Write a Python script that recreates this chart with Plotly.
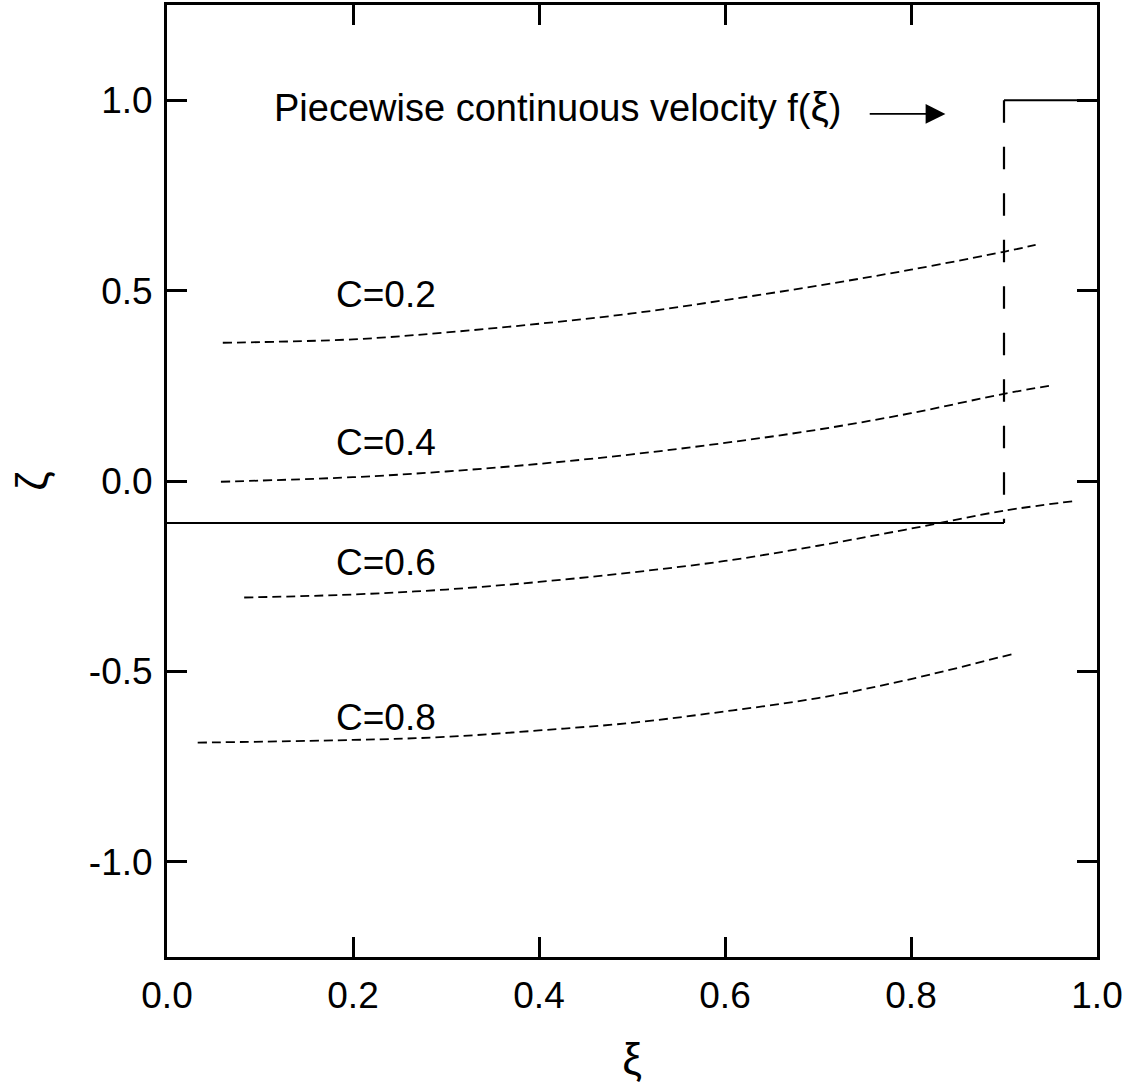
import plotly.graph_objects as go

# ---- data ----
c02_x = [0.060, 0.2, 0.3, 0.4, 0.5, 0.6, 0.7, 0.8, 0.9, 0.934]
c02_y = [0.363, 0.372, 0.390, 0.413, 0.440, 0.475, 0.513, 0.555, 0.602, 0.620]
c04_x = [0.058, 0.2, 0.3, 0.4, 0.5, 0.6, 0.7, 0.8, 0.9, 0.953]
c04_y = [-0.002, 0.010, 0.025, 0.045, 0.070, 0.100, 0.135, 0.178, 0.229, 0.252]
c06_x = [0.083, 0.2, 0.3, 0.4, 0.5, 0.6, 0.7, 0.8, 0.9, 0.978]
c06_y = [-0.306, -0.298, -0.285, -0.265, -0.240, -0.210, -0.170, -0.125, -0.078, -0.052]
c08_x = [0.033, 0.2, 0.3, 0.4, 0.5, 0.6, 0.7, 0.8, 0.908]
c08_y = [-0.687, -0.680, -0.672, -0.655, -0.635, -0.605, -0.570, -0.520, -0.455]

curve_names = ["C=0.2", "C=0.4", "C=0.6", "C=0.8"]
label_x = [0.235, 0.235, 0.235, 0.235]
label_y = [0.49, 0.10, -0.215, -0.62]

# piecewise velocity f(xi)
f_low_x = [0.0, 0.9]
f_low_y = [-0.11, -0.11]
f_jump_x = [0.9, 0.9]
f_jump_y = [1.0, -0.11]
f_high_x = [0.9, 1.0]
f_high_y = [1.0, 1.0]

x_ticks = [0.0, 0.2, 0.4, 0.6, 0.8, 1.0]
x_ticktext = ["0.0", "0.2", "0.4", "0.6", "0.8", "1.0"]
y_ticks = [1.0, 0.5, 0.0, -0.5, -1.0]
y_ticktext = ["1.0", "0.5", "0.0", "-0.5", "-1.0"]

FONT = "Liberation Sans, Arial, sans-serif"
FS = 37

fig = go.Figure()

for xs, ys in [(c02_x, c02_y), (c04_x, c04_y), (c06_x, c06_y), (c08_x, c08_y)]:
    fig.add_trace(go.Scatter(x=xs, y=ys, mode="lines", line=dict(color="black", width=1.8, dash="9px,5px"),
                             line_shape="spline", hoverinfo="skip"))

fig.add_trace(go.Scatter(x=f_low_x, y=f_low_y, mode="lines", line=dict(color="black", width=2)))
fig.add_trace(go.Scatter(x=f_jump_x, y=f_jump_y, mode="lines", line=dict(color="black", width=2.2, dash="22.5px,24px")))
fig.add_trace(go.Scatter(x=f_high_x, y=f_high_y, mode="lines", line=dict(color="black", width=2)))

for name, lx, ly in zip(curve_names, label_x, label_y):
    fig.add_annotation(x=lx, y=ly, text=name, showarrow=False, xanchor="center", yanchor="middle",
                       font=dict(family=FONT, size=FS, color="black"))

fig.add_annotation(x=0.113, y=0.982, text="Piecewise continuous velocity f(<span style='font-size:41px'>ξ</span>)",
                   showarrow=False, xanchor="left", yanchor="middle",
                   font=dict(family=FONT, size=38, color="black"))
fig.add_annotation(x=0.837, y=0.964, ax=0.754, ay=0.964, axref="x", ayref="y", xref="x", yref="y",
                   text="", showarrow=True, arrowhead=2, arrowsize=2.2, arrowwidth=1.8, arrowcolor="black")

axis_common = dict(showline=True, linecolor="black", linewidth=3, mirror="allticks", ticks="inside",
                   ticklen=20, tickwidth=3, tickcolor="black", showgrid=False, zeroline=False,
                   tickfont=dict(family=FONT, size=FS, color="black"))

fig.update_xaxes(range=[0, 1], tickvals=x_ticks, ticktext=x_ticktext,
                 title=dict(text="ξ", font=dict(family=FONT, size=44, color="black"), standoff=28),
                 ticklabelstandoff=4, **axis_common)
fig.update_yaxes(range=[-1.25, 1.25], tickvals=y_ticks, ticktext=y_ticktext,
                 title=dict(text="ζ", font=dict(family=FONT, size=44, color="black"), standoff=28),
                 ticklabelstandoff=4, **axis_common)

fig.update_layout(width=1135, height=1089, margin=dict(l=167, r=38, t=2, b=132),
                  paper_bgcolor="white", plot_bgcolor="white", showlegend=False,
                  font=dict(family=FONT, size=FS, color="black"))

fig.write_html("out.html")
